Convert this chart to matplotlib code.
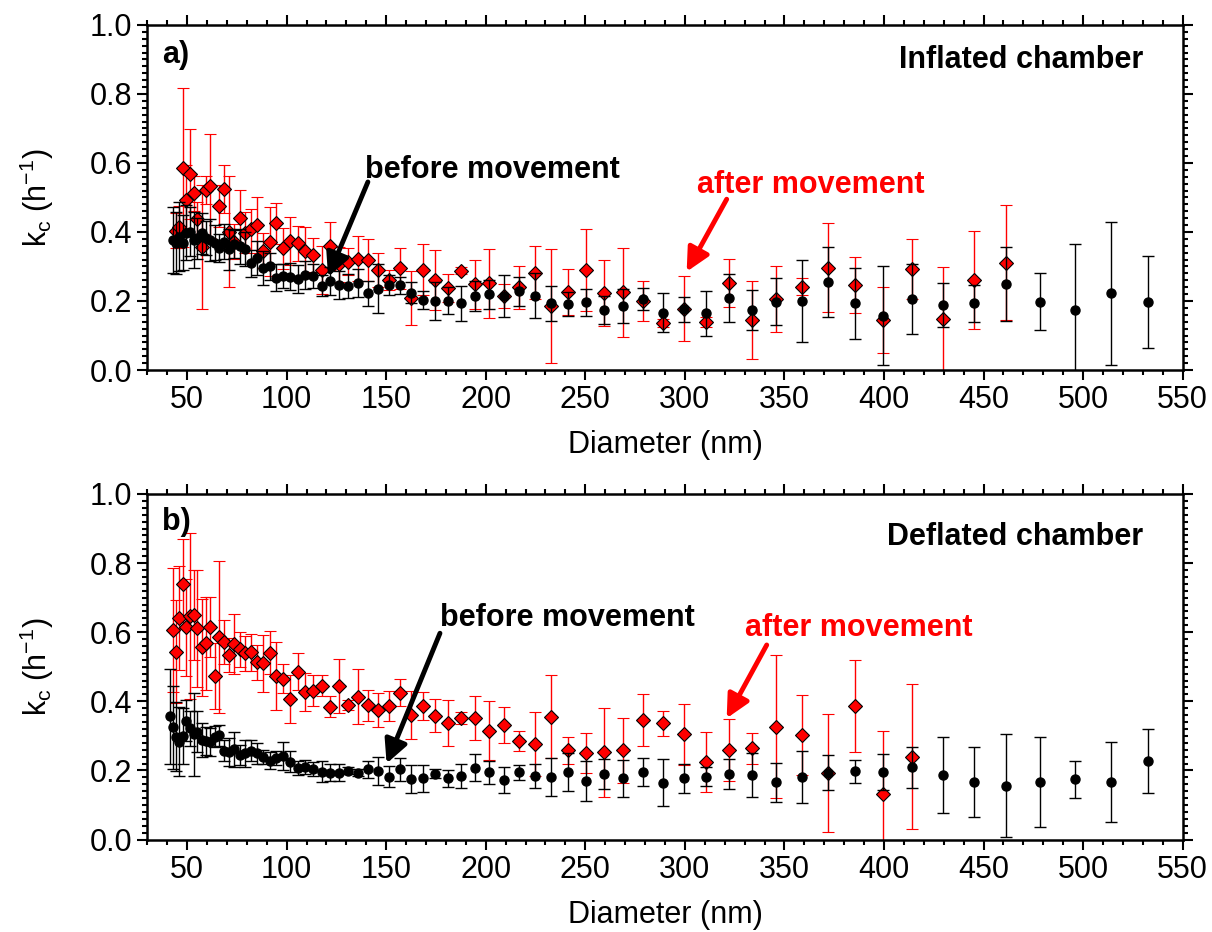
import numpy as np
import matplotlib
matplotlib.use("Agg")
import matplotlib.pyplot as plt
from matplotlib.ticker import MultipleLocator

plt.rcParams['font.family'] = ['Liberation Sans', 'DejaVu Sans']
plt.rcParams['mathtext.fontset'] = 'custom'
plt.rcParams['mathtext.rm'] = 'Liberation Sans'
plt.rcParams['mathtext.it'] = 'Liberation Sans:italic'
plt.rcParams['mathtext.bf'] = 'Liberation Sans:bold'

nan = np.nan

# SMPS channel mid-point diameters (nm)
diameter = [41.4, 42.9, 44.5, 46.1, 47.8, 49.6, 51.4, 53.3, 55.2, 57.3, 59.4, 61.5,
            63.8, 66.1, 68.5, 71.0, 73.7, 76.4, 79.1, 82.0, 85.1, 88.2, 91.4, 94.7,
            98.2, 101.8, 105.5, 109.4, 113.4, 117.6, 121.9, 126.3, 131.0, 135.8, 140.7, 145.9,
            151.2, 156.8, 162.5, 168.5, 174.7, 181.1, 187.7, 194.6, 201.7, 209.1, 216.7, 224.7,
            232.9, 241.4, 250.3, 259.5, 269.0, 278.8, 289.0, 299.6, 310.6, 322.0, 333.8, 346.0,
            358.7, 371.8, 385.4, 399.5, 414.2, 429.4, 445.1, 461.4, 478.3, 495.8, 514.0, 532.8]

# a) inflated chamber
inflated_before = [nan, 0.377, 0.369, 0.386, 0.369, 0.398, 0.401, 0.377, 0.382, 0.396, 0.382, 0.377,
                   0.369, 0.353, 0.372, 0.350, 0.365, 0.358, 0.350, 0.309, 0.325, 0.295, 0.300, 0.268,
                   0.273, 0.271, 0.263, 0.275, 0.272, 0.244, 0.258, 0.246, 0.244, 0.253, 0.222, 0.236,
                   0.246, 0.246, 0.224, 0.203, 0.201, 0.201, 0.193, 0.215, 0.219, 0.215, 0.228, 0.215,
                   0.193, 0.191, 0.196, 0.174, 0.186, 0.206, 0.166, 0.176, 0.164, 0.208, 0.174, 0.198,
                   0.200, 0.255, 0.193, 0.157, 0.206, 0.188, 0.193, 0.249, 0.198, 0.174, 0.222, 0.198]
inflated_before_err = [nan, 0.095, 0.090, 0.100, 0.080, 0.080, 0.070, 0.080, 0.060, 0.060, 0.050, 0.060,
                       0.050, 0.040, 0.050, 0.060, 0.040, 0.050, 0.050, 0.040, 0.050, 0.050, 0.040, 0.040,
                       0.035, 0.040, 0.040, 0.040, 0.035, 0.030, 0.040, 0.040, 0.035, 0.040, 0.036, 0.072,
                       0.030, 0.025, 0.030, 0.025, 0.055, 0.040, 0.050, 0.043, 0.043, 0.060, 0.042, 0.065,
                       0.050, 0.035, 0.040, 0.040, 0.050, 0.033, 0.057, 0.037, 0.065, 0.070, 0.058, 0.068,
                       0.118, 0.101, 0.102, 0.143, 0.102, 0.063, 0.054, 0.108, 0.083, 0.190, 0.207, 0.133]
inflated_after = [nan, nan, 0.404, 0.414, 0.586, 0.493, 0.568, 0.512, 0.438, 0.357, 0.522, 0.533,
                  nan, 0.475, 0.525, 0.401, 0.372, 0.442, 0.398, 0.408, 0.420, 0.346, 0.372, 0.425,
                  0.353, 0.374, 0.367, 0.344, 0.333, 0.290, 0.359, 0.306, 0.314, 0.322, 0.319, 0.290,
                  0.261, 0.295, 0.208, 0.290, 0.261, 0.237, 0.288, 0.248, 0.251, 0.215, 0.240, 0.282,
                  0.186, 0.227, 0.290, 0.224, 0.225, 0.201, 0.137, 0.178, 0.140, 0.253, 0.145, 0.206,
                  0.242, 0.297, 0.247, 0.145, 0.292, 0.149, 0.261, 0.311, nan, nan, nan, nan]
inflated_after_err = [nan, nan, 0.050, 0.060, 0.230, 0.100, 0.130, 0.050, 0.050, 0.180, 0.040, 0.150,
                      nan, 0.060, 0.070, 0.160, 0.050, 0.080, 0.060, 0.060, 0.080, 0.050, 0.100, 0.060,
                      0.060, 0.070, 0.050, 0.070, 0.050, 0.070, 0.070, 0.050, 0.040, 0.065, 0.060, 0.050,
                      0.030, 0.060, 0.078, 0.074, 0.087, 0.040, 0.010, 0.072, 0.100, 0.035, 0.062, 0.076,
                      0.165, 0.067, 0.120, 0.096, 0.130, 0.058, 0.012, 0.094, 0.015, 0.070, 0.113, 0.095,
                      0.025, 0.130, 0.081, 0.097, 0.087, 0.150, 0.143, 0.166, nan, nan, nan, nan]

# b) deflated chamber
deflated_before = [0.357, 0.325, 0.298, 0.283, 0.300, 0.344, 0.322, 0.305, 0.312, 0.288, 0.286, 0.283,
                   0.298, 0.302, 0.257, 0.254, 0.261, 0.245, 0.249, 0.257, 0.249, 0.238, 0.228, 0.235,
                   0.242, 0.225, 0.206, 0.209, 0.203, 0.196, 0.194, 0.193, 0.199, 0.193, 0.203, 0.198,
                   0.182, 0.203, 0.175, 0.177, 0.190, 0.177, 0.185, 0.208, 0.195, 0.172, 0.195, 0.185,
                   0.180, 0.195, 0.169, 0.190, 0.177, 0.195, 0.165, 0.177, 0.182, 0.190, 0.187, 0.166,
                   0.180, 0.193, 0.197, 0.195, 0.209, 0.187, 0.167, 0.155, 0.167, 0.174, 0.166, 0.227]
deflated_before_err = [0.137, 0.120, 0.100, 0.100, 0.080, 0.060, 0.050, 0.120, 0.060, 0.050, 0.040, 0.040,
                       0.030, 0.030, 0.030, 0.040, 0.050, 0.030, 0.040, 0.030, 0.030, 0.020, 0.025, 0.020,
                       0.040, 0.030, 0.020, 0.020, 0.020, 0.030, 0.025, 0.025, 0.010, 0.010, 0.025, 0.040,
                       0.030, 0.033, 0.040, 0.040, 0.013, 0.025, 0.035, 0.040, 0.033, 0.038, 0.022, 0.035,
                       0.055, 0.055, 0.058, 0.043, 0.053, 0.040, 0.068, 0.041, 0.028, 0.044, 0.063, 0.056,
                       0.075, 0.051, 0.032, 0.053, 0.060, 0.111, 0.102, 0.149, 0.130, 0.054, 0.115, 0.093]
deflated_after = [nan, 0.606, 0.544, 0.642, 0.740, 0.614, 0.646, 0.650, 0.611, 0.556, 0.568, 0.614,
                  0.474, 0.585, 0.571, 0.534, 0.566, 0.550, 0.539, 0.542, 0.513, 0.510, 0.541, 0.474,
                  0.466, 0.407, 0.486, 0.426, 0.431, 0.445, 0.384, 0.443, 0.389, 0.413, 0.389, 0.375,
                  0.386, 0.425, 0.360, 0.386, 0.358, 0.338, 0.351, 0.351, 0.315, 0.331, 0.285, 0.276,
                  0.356, 0.259, 0.251, 0.252, 0.259, 0.346, 0.336, 0.305, 0.225, 0.259, 0.264, 0.327,
                  0.302, 0.193, 0.386, 0.132, 0.240, nan, nan, nan, nan, nan, nan, nan]
deflated_after_err = [nan, 0.180, 0.150, 0.150, 0.130, 0.140, 0.240, 0.130, 0.170, 0.140, 0.135, 0.087,
                      0.095, 0.220, 0.064, 0.050, 0.087, 0.050, 0.050, 0.053, 0.050, 0.083, 0.063, 0.098,
                      0.042, 0.070, 0.053, 0.055, 0.045, 0.030, 0.030, 0.078, 0.015, 0.080, 0.045, 0.050,
                      0.044, 0.040, 0.070, 0.040, 0.048, 0.066, 0.017, 0.063, 0.085, 0.053, 0.029, 0.092,
                      0.120, 0.039, 0.058, 0.129, 0.094, 0.076, 0.035, 0.088, 0.087, 0.090, 0.044, 0.206,
                      0.116, 0.171, 0.134, 0.183, 0.210, nan, nan, nan, nan, nan, nan, nan]

FS = 22


def draw_panel(ax, before, before_err, after, after_err, tag, title,
               before_text, before_arrow, after_text, after_arrow):
    ax.errorbar(diameter, after, yerr=after_err, fmt='D', ms=7.5, mfc='#ff0000', mec='black',
                mew=0.8, ecolor='#ff0000', elinewidth=1.0, capsize=4.5, capthick=1.0,
                zorder=2, clip_on=True)
    ax.errorbar(diameter, before, yerr=before_err, fmt='o', ms=6.5, mfc='black', mec='black',
                ecolor='black', elinewidth=1.0, capsize=4.5, capthick=1.0, zorder=3,
                clip_on=True)

    ax.set_xlim(30, 550)
    ax.set_ylim(0.0, 1.0)
    ax.xaxis.set_minor_locator(MultipleLocator(10))
    ax.yaxis.set_minor_locator(MultipleLocator(0.02))
    ax.set_yticks([0.0, 0.2, 0.4, 0.6, 0.8, 1.0])
    ax.set_yticklabels(['0.0', '0.2', '0.4', '0.6', '0.8', '1.0'])
    ax.set_xticks(np.arange(50, 551, 50))
    ax.tick_params(which='both', direction='out', top=True, right=True,
                   labeltop=False, labelright=False, width=1.5, labelsize=FS)
    ax.tick_params(which='major', length=7, pad=4)
    ax.tick_params(which='minor', length=3.5)
    for sp in ax.spines.values():
        sp.set_linewidth(1.8)

    ax.set_xlabel('Diameter (nm)', fontsize=FS)
    ax.xaxis.set_label_coords(0.5, -0.175)
    ax.xaxis.label.set_va('top')
    ax.set_ylabel(r'k$_{\mathregular{c}}$ (h$^{\mathregular{-1}}$)', fontsize=FS)
    ax.yaxis.set_label_coords(-0.088, 0.5)

    ax.text(0.014, tag[1], tag[0], transform=ax.transAxes, fontsize=FS,
            fontweight='bold', ha='left', va='center')
    ax.text(0.962, title[1], title[0], transform=ax.transAxes, fontsize=FS,
            fontweight='bold', ha='right', va='center')

    ax.text(before_text[0], before_text[1], 'before movement', fontsize=FS,
            fontweight='bold', color='black', ha='left', va='center')
    ax.annotate('', xy=before_arrow[1], xytext=before_arrow[0],
                arrowprops=dict(arrowstyle='-|>,head_length=0.7,head_width=0.35',
                                lw=3.5, color='black', shrinkA=0, shrinkB=0,
                                mutation_scale=20), zorder=5)
    ax.text(after_text[0], after_text[1], 'after movement', fontsize=FS,
            fontweight='bold', color='#ff0000', ha='left', va='center')
    ax.annotate('', xy=after_arrow[1], xytext=after_arrow[0],
                arrowprops=dict(arrowstyle='-|>,head_length=0.7,head_width=0.35',
                                lw=3.5, color='#ff0000', shrinkA=0, shrinkB=0,
                                mutation_scale=20), zorder=5)


fig = plt.figure(figsize=(12.12, 9.32), dpi=100)
ax_a = fig.add_axes([0.1215, 0.603, 0.8543, 0.3702])
ax_b = fig.add_axes([0.1215, 0.0992, 0.8543, 0.3708])

draw_panel(ax_a, inflated_before, inflated_before_err, inflated_after, inflated_after_err,
           ('a)', 0.913), ('Inflated chamber', 0.899),
           (139.5, 0.58), ((140.8, 0.545), (120.8, 0.27)),
           (306.0, 0.536), ((321.0, 0.495), (300.9, 0.285)))
draw_panel(ax_b, deflated_before, deflated_before_err, deflated_after, deflated_after_err,
           ('b)', 0.919), ('Deflated chamber', 0.876),
           (177.0, 0.641), ((177.0, 0.597), (150.2, 0.22)),
           (330.2, 0.612), ((341.1, 0.563), (321.0, 0.351)))

fig.savefig('out.png', dpi=100)
